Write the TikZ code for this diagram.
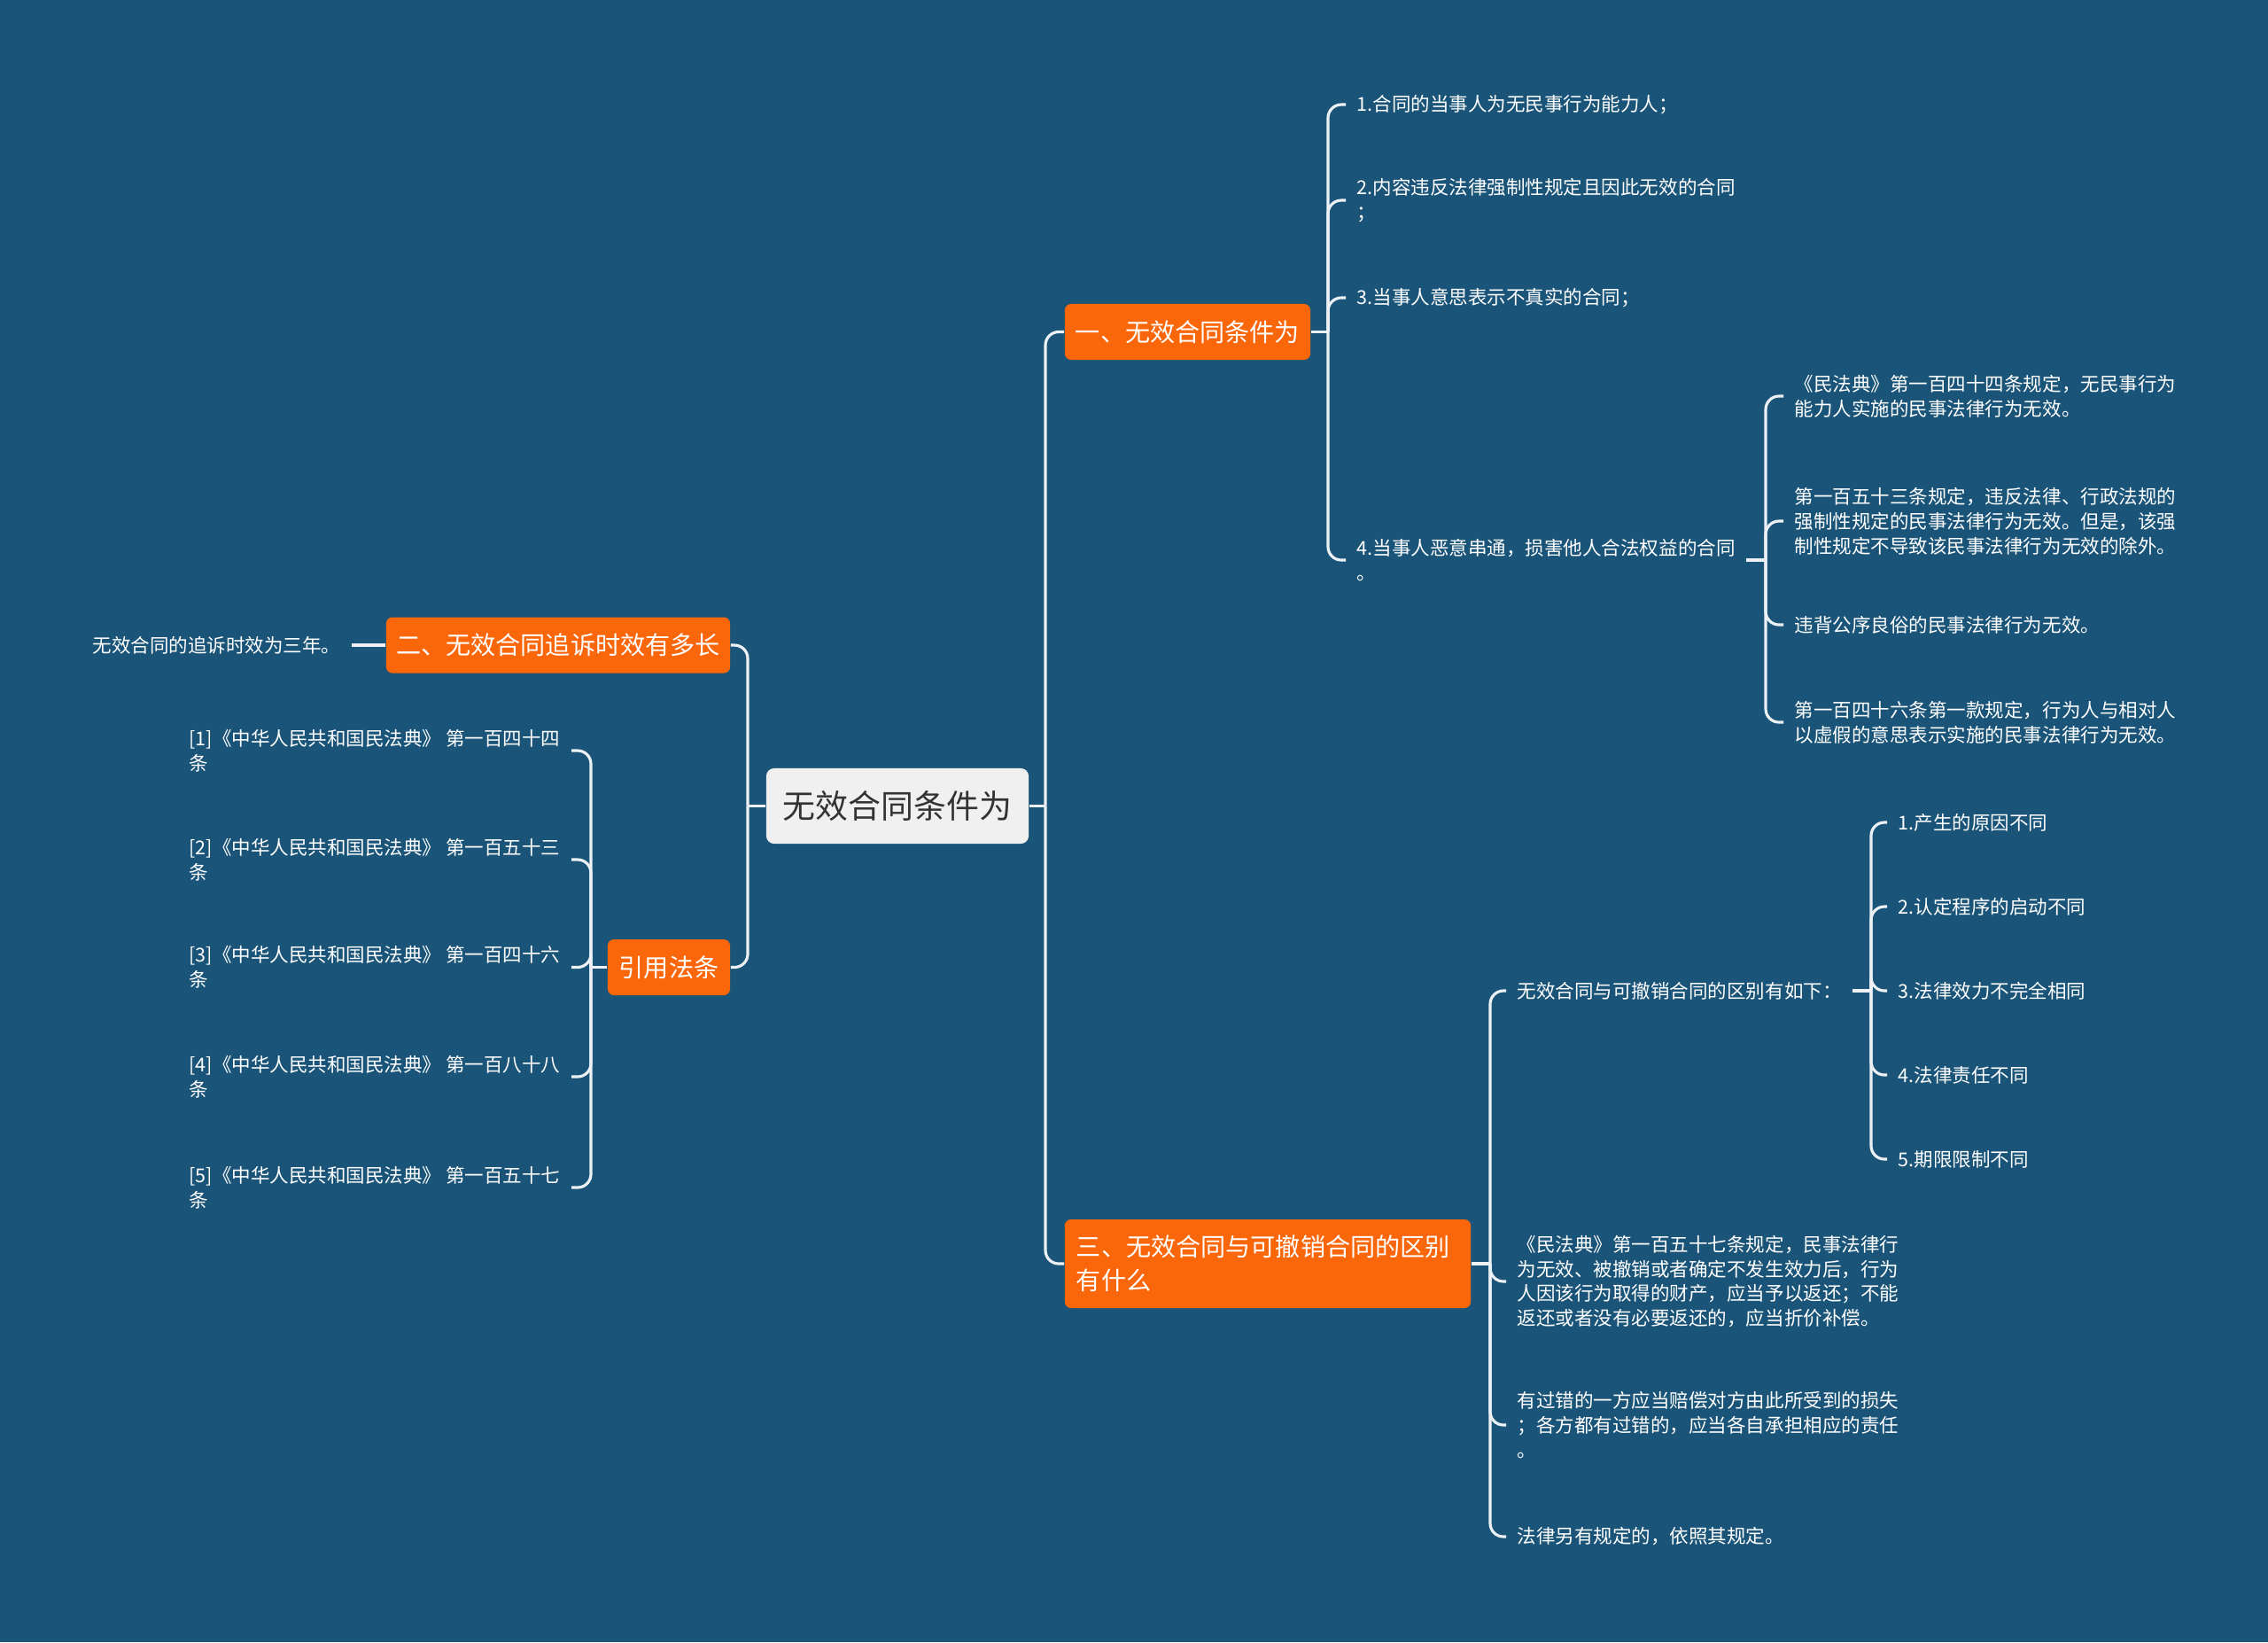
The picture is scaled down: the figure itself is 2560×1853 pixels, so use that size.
\documentclass[tikz,border=0pt]{standalone}
\usepackage{fontspec}
\setmainfont{Noto Sans CJK SC}
\usetikzlibrary{positioning}
\definecolor{bgblue}{RGB}{26,84,120}
\definecolor{topicor}{RGB}{250,102,10}
\definecolor{rootgr}{RGB}{240,240,240}
\definecolor{lnwhite}{RGB}{236,241,245}
\tikzset{
  rootbox/.style = {fill=rootgr, rounded corners=2.5pt, text=black!80,
                    font=\fontsize{10.5}{12}\selectfont, minimum width=2.96cm,
                    minimum height=0.85cm, inner sep=0pt},
  topic/.style   = {fill=topicor, rounded corners=2pt, text=white,
                    font=\fontsize{8}{10.8}\selectfont, minimum height=0.63cm,
                    inner sep=0pt},
  leaf/.style    = {text=white, font=\fontsize{6.12}{7.95}\selectfont, align=left,
                    inner xsep=0.12cm, inner ysep=1pt},
  ln/.style      = {draw=lnwhite, line width=0.9pt},
  br/.style      = {ln, rounded corners=0.15cm},
}
\begin{document}
\begin{tikzpicture}[x=0.01cm, y=-0.01cm]
\fill[bgblue] (0,0) rectangle (2560,1853);
\useasboundingbox (0,0) rectangle (2560,1853);

\node[rootbox] (root) at (1013,909.5) {无效合同条件为};

\node[topic, minimum width=2.77cm] (t1) at (1340.5,374.5) {一、无效合同条件为};
\node[topic, minimum width=3.88cm] (t2) at (630,728) {二、无效合同追诉时效有多长};
\node[topic, text width=4.32cm, align=left, minimum height=1cm, inner xsep=0.13cm] (t3) at (1431,1426)
     {三、无效合同与可撤销合同的区别\\有什么};
\node[topic, minimum width=1.38cm] (t4) at (755,1091.5) {引用法条};

\coordinate (jr) at (1180,909.5);
\coordinate (jl) at (844,909.5);
\draw[ln] (root.east) -- (jr);
\draw[ln] (root.west) -- (jl);
\foreach \n in {t1,t3}{\draw[br] (jr) |- (\n.west);}
\foreach \n in {t2,t4}{\draw[br] (jl) |- (\n.east);}

\node[leaf, anchor=west] (c1) at (1519,118) {1.合同的当事人为无民事行为能力人；};
\node[leaf, anchor=west] (c2) at (1519,226) {2.内容违反法律强制性规定且因此无效的合同\\；};
\node[leaf, anchor=west] (c3) at (1519,336) {3.当事人意思表示不真实的合同；};
\node[leaf, anchor=west] (c4) at (1519,632) {4.当事人恶意串通，损害他人合法权益的合同\\。};
\coordinate (j1) at (1499,374.5);
\draw[ln] (t1.east) -- (j1);
\foreach \n in {c1,c2,c3,c4}{\draw[br] (j1) |- (\n.west);}

\node[leaf, anchor=west] (d1) at (2013,447)
     {《民法典》第一百四十四条规定，无民事行为\\能力人实施的民事法律行为无效。};
\node[leaf, anchor=west] (d2) at (2013,588)
     {第一百五十三条规定，违反法律、行政法规的\\强制性规定的民事法律行为无效。但是，该强\\制性规定不导致该民事法律行为无效的除外。};
\node[leaf, anchor=west] (d3) at (2013,705) {违背公序良俗的民事法律行为无效。};
\node[leaf, anchor=west] (d4) at (2013,815)
     {第一百四十六条第一款规定，行为人与相对人\\以虚假的意思表示实施的民事法律行为无效。};
\coordinate (j14) at (1993,632);
\draw[ln] (c4.east) -- (j14);
\foreach \n in {d1,d2,d3,d4}{\draw[br] (j14) |- (\n.west);}

\node[leaf, anchor=east] (l1) at (397,728) {无效合同的追诉时效为三年。};
\draw[ln] (t2.west) -- (l1.east);

\node[leaf, anchor=east] (r1) at (645,847) {[1]《中华人民共和国民法典》 第一百四十四\\条};
\node[leaf, anchor=east] (r2) at (645,970) {[2]《中华人民共和国民法典》 第一百五十三\\条};
\node[leaf, anchor=east] (r3) at (645,1091.5) {[3]《中华人民共和国民法典》 第一百四十六\\条};
\node[leaf, anchor=east] (r4) at (645,1215) {[4]《中华人民共和国民法典》 第一百八十八\\条};
\node[leaf, anchor=east] (r5) at (645,1340) {[5]《中华人民共和国民法典》 第一百五十七\\条};
\coordinate (j4) at (667,1091.5);
\draw[ln] (t4.west) -- (j4);
\foreach \n in {r1,r2,r3,r4,r5}{\draw[br] (j4) |- (\n.east);}

\node[leaf, anchor=west] (e1) at (1700,1118) {无效合同与可撤销合同的区别有如下：};
\node[leaf, anchor=west] (e2) at (1700,1446)
     {《民法典》第一百五十七条规定，民事法律行\\为无效、被撤销或者确定不发生效力后，行为\\人因该行为取得的财产，应当予以返还；不能\\返还或者没有必要返还的，应当折价补偿。};
\node[leaf, anchor=west] (e3) at (1700,1608)
     {有过错的一方应当赔偿对方由此所受到的损失\\；各方都有过错的，应当各自承担相应的责任\\。};
\node[leaf, anchor=west] (e4) at (1700,1734) {法律另有规定的，依照其规定。};
\coordinate (j3) at (1682,1426);
\draw[ln] (t3.east) -- (j3);
\foreach \n in {e1,e2,e3,e4}{\draw[br] (j3) |- (\n.west);}

\node[leaf, anchor=west] (f1) at (2130,928) {1.产生的原因不同};
\node[leaf, anchor=west] (f2) at (2130,1023) {2.认定程序的启动不同};
\node[leaf, anchor=west] (f3) at (2130,1118) {3.法律效力不完全相同};
\node[leaf, anchor=west] (f4) at (2130,1213) {4.法律责任不同};
\node[leaf, anchor=west] (f5) at (2130,1308) {5.期限限制不同};
\coordinate (j31) at (2112,1118);
\draw[ln] (e1.east) -- (j31);
\foreach \n in {f1,f2,f3,f4,f5}{\draw[br] (j31) |- (\n.west);}
\end{tikzpicture}
\end{document}
